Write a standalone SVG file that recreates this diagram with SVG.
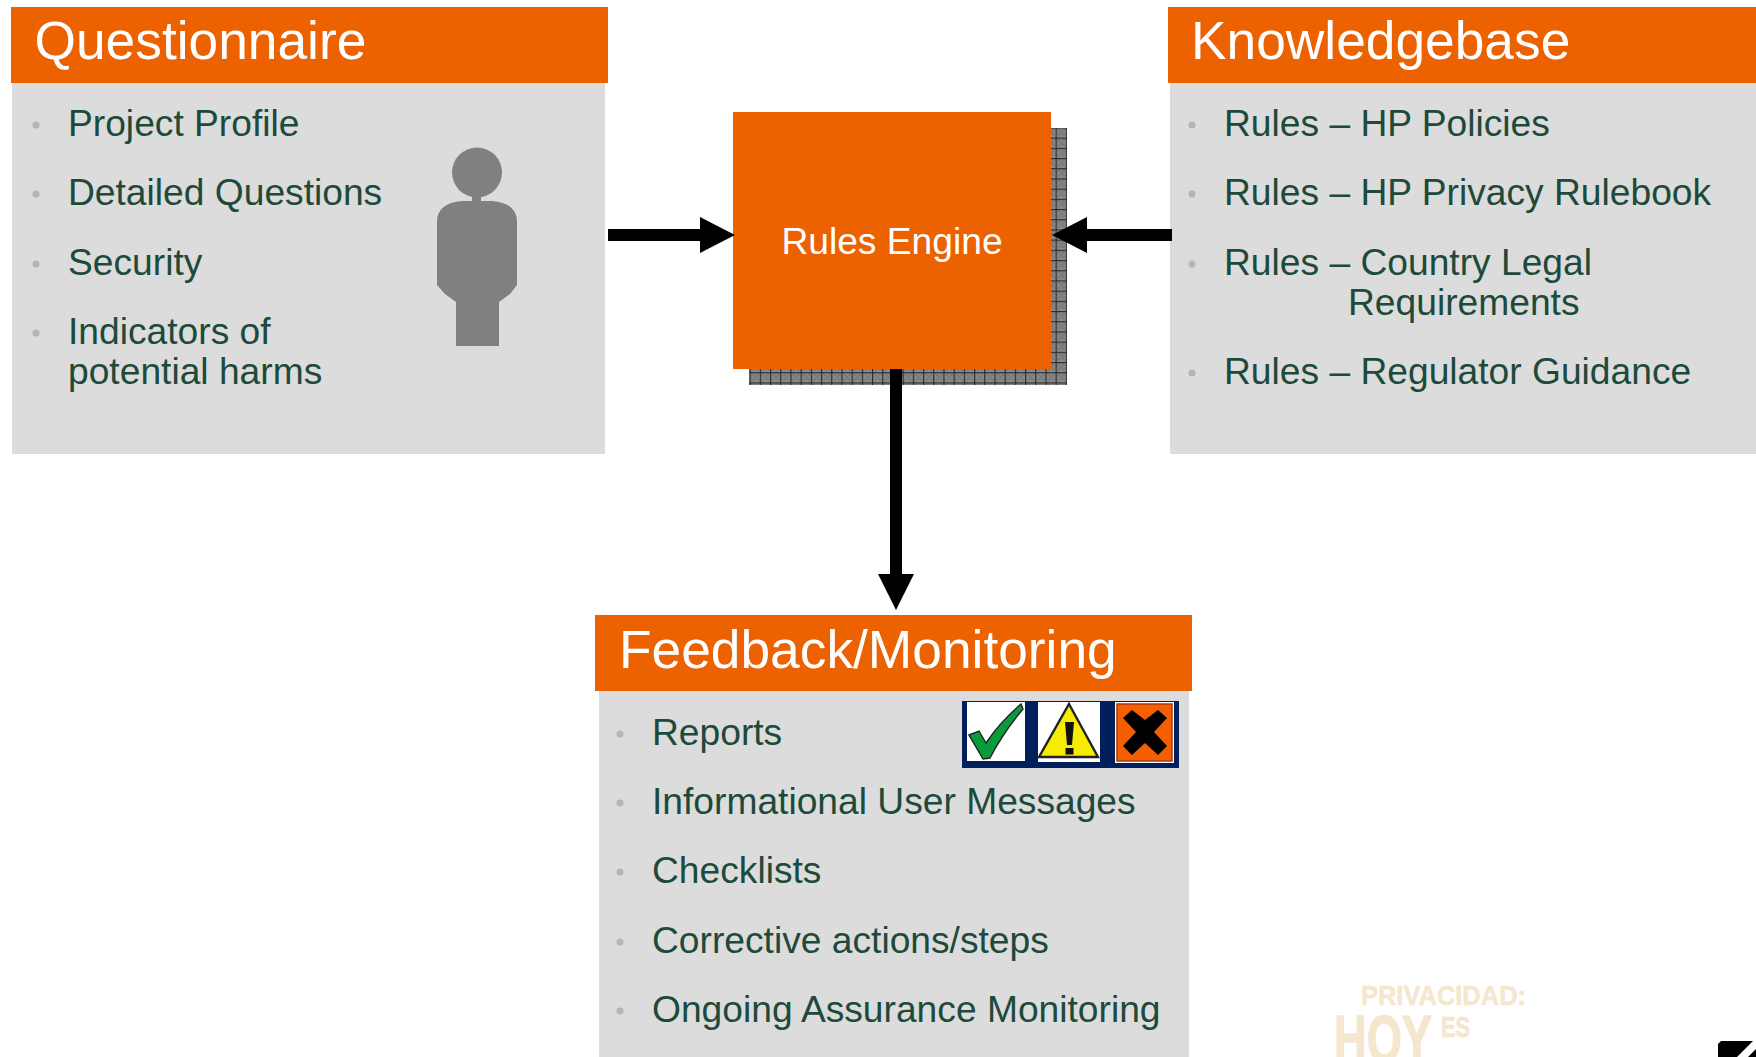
<svg xmlns="http://www.w3.org/2000/svg" width="1756" height="1057" viewBox="0 0 1756 1057">
<style>
.hdr{fill:#ec6100}
.panel{fill:#dcdcdc}
.title{font:53.3px "Liberation Sans",Arial,sans-serif;fill:#fff}
.item{font:37.2px "Liberation Sans",Arial,sans-serif;fill:#1d4a3a}
.bul{fill:#b4b4b4}
.wm{font-family:"Liberation Sans",Arial,sans-serif;font-weight:700;fill:#f5e7cd;stroke:#f5e7cd}
</style>
<defs>
<pattern id="grid" width="10.2" height="10.2" patternUnits="userSpaceOnUse" x="5" y="5">
<rect width="10.2" height="10.2" fill="#8a8a8a"/>
<path d="M3 2h2v2h-2zM7 2h2v2h-2zM5 4h2v2h-2zM3 6h2v2h-2zM7 6h2v2h-2z" fill="#727272"/>
<path d="M0 .6H10.2M.6 0V10.2" stroke="#2a2a2a" stroke-width="1.2" fill="none"/>
</pattern>
</defs>
<rect width="1756" height="1057" fill="#fff"/>
<g id="questionnaire">
<rect class="panel" x="12" y="83" width="593" height="371"/>
<rect class="hdr" x="11" y="7" width="597" height="76"/>
<text class="title" x="34.5" y="59">Questionnaire</text>
<circle class="bul" cx="36" cy="125" r="3.5"/><circle class="bul" cx="36" cy="194" r="3.5"/><circle class="bul" cx="36" cy="264" r="3.5"/><circle class="bul" cx="36" cy="333" r="3.5"/>
<text class="item" x="68" y="136">Project Profile</text>
<text class="item" x="68" y="205">Detailed Questions</text>
<text class="item" x="68" y="275">Security</text>
<text class="item" x="68" y="344">Indicators of</text>
<text class="item" x="68" y="384">potential harms</text>
<path fill="#808080" d="M472 195H481V201H492Q517 203 517 222V285L510 294L499 302V346H456V302L445 294L437 285V222Q437 203 462 201H472Z"/>
<circle cx="477" cy="172.5" r="25" fill="#808080"/>
</g>
<g id="knowledgebase">
<rect class="panel" x="1170" y="83" width="586" height="371"/>
<rect class="hdr" x="1168" y="7" width="588" height="76"/>
<text class="title" x="1191" y="59">Knowledgebase</text>
<circle class="bul" cx="1192" cy="125" r="3.5"/><circle class="bul" cx="1192" cy="194" r="3.5"/><circle class="bul" cx="1192" cy="264" r="3.5"/><circle class="bul" cx="1192" cy="373" r="3.5"/>
<text class="item" x="1224" y="136">Rules – HP Policies</text>
<text class="item" x="1224" y="205">Rules – HP Privacy Rulebook</text>
<text class="item" x="1224" y="275">Rules – Country Legal</text>
<text class="item" x="1348" y="315">Requirements</text>
<text class="item" x="1224" y="384">Rules – Regulator Guidance</text>
</g>
<g id="rules-engine">
<rect x="749" y="128" width="318" height="257" fill="url(#grid)"/>
<rect class="hdr" x="733" y="112" width="318" height="257"/>
<text x="892" y="254" text-anchor="middle" font-family="'Liberation Sans',Arial,sans-serif" font-size="37.2" fill="#fff">Rules Engine</text>
</g>
<g id="feedback">
<rect class="panel" x="599" y="691" width="590" height="366"/>
<rect class="hdr" x="595" y="615" width="597" height="76"/>
<text class="title" x="619" y="668">Feedback/Monitoring</text>
<circle class="bul" cx="620" cy="734" r="3.5"/><circle class="bul" cx="620" cy="803" r="3.5"/><circle class="bul" cx="620" cy="872" r="3.5"/><circle class="bul" cx="620" cy="942" r="3.5"/><circle class="bul" cx="620" cy="1011" r="3.5"/>
<text class="item" x="652" y="745">Reports</text>
<text class="item" x="652" y="814">Informational User Messages</text>
<text class="item" x="652" y="883">Checklists</text>
<text class="item" x="652" y="953">Corrective actions/steps</text>
<text class="item" x="652" y="1022">Ongoing Assurance Monitoring</text>
<rect x="962" y="701" width="217" height="67" fill="#001f5b"/>
<rect x="967" y="702" width="58" height="59" fill="#fff"/>
<path d="M969 735L979 731L986 743Q1000 722 1021 704L1023 709Q1003 733 990 758L983 759Z" fill="#0a9a3c" stroke="#222" stroke-width="1.4"/>
<rect x="1038" y="702" width="62" height="60" fill="#fff"/>
<path d="M1069 704L1098 757H1039Z" fill="#f7ec00" stroke="#222" stroke-width="2.4"/>
<path d="M1065 722H1074L1072 745H1067Z" fill="#111"/><rect x="1065.5" y="748" width="8" height="6.5" fill="#111"/>
<rect x="1115" y="702" width="59" height="61" fill="#fff"/>
<rect x="1117" y="704" width="55" height="57" fill="#f55f00" stroke="#a93a10" stroke-width="1.5"/>
<path d="M1123 718L1132 710L1145 720L1158 710L1167 718L1154 732L1167 746L1158 755L1145 743L1132 755L1123 746L1136 732Z" fill="#000"/>
</g>
<g id="connectors" fill="#000">
<path id="c1" d="M608 229H700V217L735 235L700 253V241H608Z"/>
<path id="c2" d="M1172 229H1087V217L1052 235L1087 253V241H1172Z"/>
<path id="c3" d="M890 369H902V574H914L896 610L878 574H890Z"/>
</g>
<g id="watermark">
<text class="wm" x="1361" y="1005" font-size="28" stroke-width=".6" textLength="165" lengthAdjust="spacingAndGlyphs">PRIVACIDAD:</text>
<text class="wm" x="1334" y="1062" font-size="66" stroke-width="1.4" textLength="98" lengthAdjust="spacingAndGlyphs">HOY</text>
<text class="wm" x="1441" y="1037" font-size="29" stroke-width=".7" textLength="29" lengthAdjust="spacingAndGlyphs">ES</text>
<path d="M1721 1041H1753L1737 1057H1718V1044ZM1756 1049V1057H1748Z" fill="#000"/>
</g>
</svg>
